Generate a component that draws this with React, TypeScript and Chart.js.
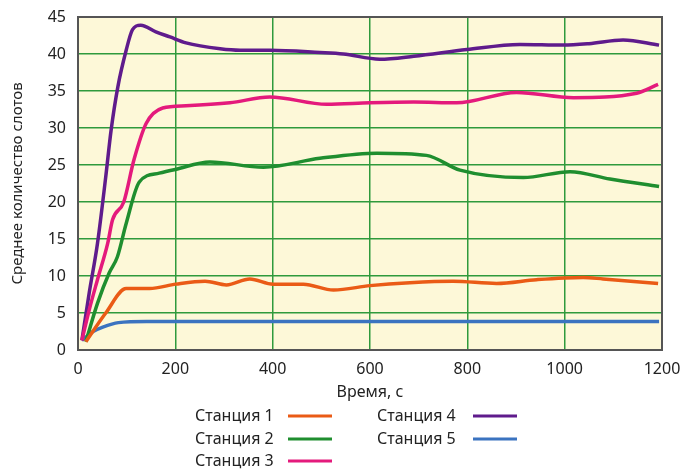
import React, { useEffect, useRef } from 'react';
import { Chart, registerables } from 'chart.js';

Chart.register(...registerables);

const stationNames = ['Станция 1', 'Станция 2', 'Станция 3', 'Станция 4', 'Станция 5'];

const station1Time = [16, 57, 99, 147, 201, 261, 305, 353, 401, 463, 525, 600, 682, 771, 860, 942, 1038, 1079, 1192];
const station1Slots = [1.1, 5.0, 8.3, 8.3, 8.9, 9.3, 8.8, 9.6, 8.9, 8.9, 8.1, 8.7, 9.1, 9.3, 9.0, 9.5, 9.8, 9.6, 9.0];

const station2Time = [16, 40, 64, 81, 99, 126, 167, 200, 271, 381, 497, 614, 716, 785, 915, 1011, 1093, 1194];
const station2Slots = [1.1, 6.3, 10.4, 12.6, 17.1, 22.7, 23.9, 24.4, 25.4, 24.7, 25.9, 26.6, 26.3, 24.3, 23.3, 24.1, 23.1, 22.1];

const station3Time = [8, 23, 40, 61, 71, 94, 115, 140, 174, 222, 312, 394, 511, 600, 690, 778, 901, 1018, 1148, 1192];
const station3Slots = [1.3, 5.4, 9.5, 14.4, 17.6, 20.0, 25.7, 30.6, 32.7, 33.0, 33.4, 34.2, 33.2, 33.4, 33.5, 33.4, 34.8, 34.1, 34.7, 35.9];

const station4Time = [8, 23, 40, 57, 68, 82, 99, 112, 129, 160, 189, 222, 292, 333, 394, 497, 545, 620, 690, 799, 908, 997, 1050, 1120, 1194];
const station4Slots = [1.3, 7.7, 14.4, 23.4, 29.7, 35.6, 40.5, 43.3, 43.9, 43.0, 42.3, 41.5, 40.7, 40.5, 40.5, 40.2, 40.0, 39.3, 39.7, 40.6, 41.3, 41.2, 41.4, 41.9, 41.2];

const station5Time = [8, 31, 51, 83, 141, 300, 600, 900, 1194];
const station5Slots = [1.3, 2.5, 3.1, 3.7, 3.85, 3.85, 3.85, 3.85, 3.85];

const stationTimes = [station1Time, station2Time, station3Time, station4Time, station5Time];
const stationSlots = [station1Slots, station2Slots, station3Slots, station4Slots, station5Slots];

const xAxisTitle = 'Время, с';
const yAxisTitle = 'Среднее количество слотов';

const COLORS = ['#ea5b16', '#1f8e2f', '#e41a7c', '#5f1b8c', '#3b73c0'];
const FONT = '"Noto Sans", "DejaVu Sans", sans-serif';

const bgPlugin = {
  id: 'bgPlugin',
  beforeDraw(chart: any) {
    const { ctx, chartArea } = chart;
    ctx.save();
    ctx.fillStyle = '#fdf8d8';
    ctx.fillRect(chartArea.left, chartArea.top, chartArea.right - chartArea.left, chartArea.bottom - chartArea.top);
    ctx.restore();
  },
  afterDraw(chart: any) {
    const { ctx, chartArea } = chart;
    ctx.save();
    ctx.strokeStyle = '#555555';
    ctx.lineWidth = 2;
    ctx.strokeRect(chartArea.left, chartArea.top, chartArea.right - chartArea.left, chartArea.bottom - chartArea.top);
    ctx.restore();
  },
};

const legendPlugin = {
  id: 'customLegend',
  afterDraw(chart: any) {
    const { ctx } = chart;
    const cols = [
      { textX: 195, lineX: 288 },
      { textX: 377, lineX: 473 },
    ];
    const rows = [416, 439, 461];
    ctx.save();
    ctx.font = `16px ${FONT}`;
    ctx.textBaseline = 'middle';
    ctx.textAlign = 'left';
    stationNames.forEach((name, i) => {
      const col = i < 3 ? cols[0] : cols[1];
      const row = i < 3 ? rows[i] : rows[i - 3];
      ctx.fillStyle = '#222222';
      ctx.fillText(name, col.textX, row);
      ctx.strokeStyle = COLORS[i];
      ctx.lineWidth = 3;
      ctx.beginPath();
      ctx.moveTo(col.lineX, row);
      ctx.lineTo(col.lineX + 44, row);
      ctx.stroke();
    });
    ctx.restore();
  },
};

export default function App() {
  const ref = useRef<HTMLCanvasElement>(null);
  useEffect(() => {
    const canvas = ref.current!;
    const datasets = stationNames.map((name, i) => ({
      label: name,
      data: stationTimes[i].map((t, j) => ({ x: t, y: stationSlots[i][j] })),
      borderColor: COLORS[i],
      backgroundColor: COLORS[i],
      borderWidth: 3.5,
      pointRadius: 0,
      cubicInterpolationMode: 'monotone' as const,
      fill: false,
    }));
    const chart = new Chart(canvas, {
      type: 'line',
      data: { datasets },
      options: {
        animation: false,
        responsive: false,
        devicePixelRatio: 1,
        layout: { padding: { left: 0, right: 20, top: 17, bottom: 70 } },
        plugins: {
          legend: { display: false },
          tooltip: { enabled: false },
        },
        scales: {
          x: {
            type: 'linear',
            min: 0,
            max: 1200,
            ticks: { stepSize: 200, color: '#222', font: { family: FONT, size: 16 }, padding: 10, maxRotation: 0, callback: (v: any) => String(v) },
            grid: { color: '#2f9a3c', lineWidth: 1.5, drawTicks: false },
            border: { display: false },
            title: { display: true, text: xAxisTitle, color: '#222', font: { family: FONT, size: 16 }, padding: 0 },
            afterFit: (s: any) => { s.height = 52; s.paddingLeft = 0; s.paddingRight = 0; },
          },
          y: {
            min: 0,
            max: 45,
            ticks: { stepSize: 5, color: '#222', font: { family: FONT, size: 16 }, padding: 12, callback: (v: any) => String(v) },
            grid: { color: '#2f9a3c', lineWidth: 1.5, drawTicks: false },
            border: { display: false },
            title: { display: true, text: yAxisTitle, color: '#222', font: { family: FONT, size: 15 }, padding: { top: 9, bottom: 0 } },
            afterFit: (s: any) => { s.width = 78; s.paddingTop = 0; s.paddingBottom = 0; },
          },
        },
      },
      plugins: [bgPlugin, legendPlugin],
    });
    return () => chart.destroy();
  }, []);
  return (
    <div style={{ position: 'absolute', left: 0, top: 0, width: 682, height: 472, background: '#fff' }}>
      <canvas ref={ref} width={682} height={472} style={{ width: 682, height: 472, display: 'block' }} />
    </div>
  );
}
